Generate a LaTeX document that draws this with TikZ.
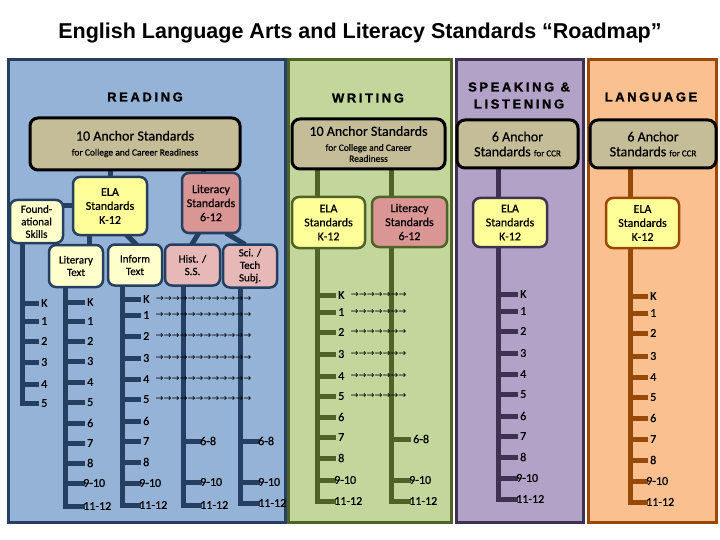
\documentclass[tikz,border=0pt]{standalone}
\usepackage{fontspec}
\setmainfont[FakeBold=0.6]{Carlito}
\newfontfamily\titlefont{Liberation Sans}
\newfontfamily\headfont[LetterSpace=20, FakeBold=1.2]{Liberation Sans Bold}
\newfontfamily\arrowfont{DejaVu Sans}

\definecolor{readfill}{HTML}{95B3D7}
\definecolor{readline}{HTML}{243F60}
\definecolor{writefill}{HTML}{C3D69B}
\definecolor{writeline}{HTML}{4F6228}
\definecolor{speakfill}{HTML}{B3A2C7}
\definecolor{speakline}{HTML}{3F3151}
\definecolor{langfill}{HTML}{FAC090}
\definecolor{langline}{HTML}{984807}
\definecolor{anchorfill}{HTML}{C4BD97}
\definecolor{elafill}{HTML}{FFFF99}
\definecolor{palefill}{HTML}{FFFFCC}
\definecolor{litfill}{HTML}{D99694}
\definecolor{subjfill}{HTML}{E6B9B8}

\pgfdeclarelayer{panels}
\pgfdeclarelayer{wires}
\pgfsetlayers{panels,wires,main}

\begin{document}
\begin{tikzpicture}[x=1pt, y=-1pt,
    box/.style={rounded corners=7pt, line width=2.5pt, align=center, inner sep=1pt,
      font=\fontsize{12}{14}\selectfont},
    smallbox/.style={box, font=\fontsize{11}{12.5}\selectfont},
    anchorbox/.style={box, draw=black, line width=3pt, rounded corners=8pt,
      fill=anchorfill, font=\fontsize{14}{15}\selectfont},
    panel/.style={line width=3pt},
    head/.style={align=center, font=\headfont\fontsize{13}{17}\selectfont},
    grade/.style={anchor=west, inner xsep=5pt, inner ysep=1pt, font=\fontsize{12}{14}\selectfont},
    band/.style={grade, inner xsep=1pt},
    arrowrow/.style={anchor=west, inner sep=1pt, font=\arrowfont\fontsize{9.5}{10}\selectfont},
    wire/.style={line width=5pt, line cap=rect},
]
\useasboundingbox (0,0) rectangle (720,540);

% panels
\begin{pgfonlayer}{panels}
    \fill[white] (0,0) rectangle (720,540);
    \draw[panel, draw=readline, fill=readfill] (8,60) rectangle (285,522);
    \draw[panel, draw=writeline, fill=writefill] (288,60) rectangle (451,522);
    \draw[panel, draw=speakline, fill=speakfill] (456,60) rectangle (583,522);
    \draw[panel, draw=langline, fill=langfill] (588,60) rectangle (716,522);
\end{pgfonlayer}

\node (title) at (360,33) {\titlefont\bfseries\fontsize{21.5}{24}\selectfont English Language Arts and Literacy Standards “Roadmap”};

% reading
\node[head] (rhead) at (145,97) {READING};
\node[anchorbox, minimum width=210, minimum height=52] (ranchor) at (135,144)
    {10 Anchor Standards\\{\fontsize{9.5}{11}\selectfont for College and Career Readiness}};
\node[box, draw=readline, fill=elafill, minimum width=74, minimum height=58] (rela) at (110,206)
    {ELA\\Standards\\K-12};
\node[box, draw=readline, fill=litfill, minimum width=58, minimum height=60] (rlit) at (211,203)
    {Literacy\\Standards\\6-12};
\node[smallbox, draw=readline, fill=palefill, minimum width=53, minimum height=43] (rfound) at (36.5,221.5)
    {Found-\\ational\\Skills};
\node[smallbox, draw=readline, fill=palefill, minimum width=54, minimum height=42] (rliterary) at (76,266)
    {Literary\\Text};
\node[smallbox, draw=readline, fill=palefill, minimum width=54, minimum height=41] (rinform) at (135,265)
    {Inform\\Text};
\node[smallbox, draw=readline, fill=subjfill, minimum width=55, minimum height=41] (rhist) at (192.5,265)
    {Hist. /\\S.S.};
\node[smallbox, draw=readline, fill=subjfill, minimum width=54, minimum height=43] (rsci) at (250,266)
    {Sci. /\\Tech\\Subj.};

\coordinate (rfend) at (22,403);
\coordinate (rlend) at (65,506);
\coordinate (riend) at (122,505);
\coordinate (rhend) at (183,505);
\coordinate (rsend) at (240,503);
\foreach \g/\y [count=\i] in {K/303,1/321,2/341,3/362,4/384,5/403}
    \node[grade] (rf\i) at (36,\y) {\g};
\foreach \g/\y [count=\i] in {K/302,1/321,2/341,3/361,4/382,5/402,6/423,7/443,8/463}
    \node[grade] (rl\i) at (82,\y) {\g};
\foreach \g/\y [count=\i from 10] in {9-10/483,11-12/506}
    \node[band] (rl\i) at (82,\y) {\g};
\foreach \g/\y [count=\i] in {K/299,1/315,2/336,3/358,4/379,5/399,6/421,7/441,8/462}
    \node[grade] (ri\i) at (138,\y) {\g};
\foreach \g/\y [count=\i from 10] in {9-10/483,11-12/505}
    \node[band] (ri\i) at (138,\y) {\g};
\foreach \g/\y [count=\i] in {6-8/441,9-10/482,11-12/505}
    \node[band] (rh\i) at (199,\y) {\g};
\foreach \g/\y [count=\i] in {6-8/441,9-10/482,11-12/503}
    \node[band] (rs\i) at (257,\y) {\g};

% writing
\node[head] (whead) at (368,98) {WRITING};
\node[anchorbox, minimum width=153, minimum height=50] (wanchor) at (368.5,144)
    {10 Anchor Standards\\{\fontsize{9.5}{11}\selectfont for College and Career}\\[-4pt]{\fontsize{9.5}{11}\selectfont Readiness}};
\node[box, draw=writeline, fill=elafill, minimum width=73, minimum height=51] (wela) at (328.5,222.5)
    {ELA\\Standards\\K-12};
\node[box, draw=writeline, fill=litfill, minimum width=75, minimum height=50] (wlit) at (409.5,222)
    {Literacy\\Standards\\6-12};

\coordinate (weend) at (317,501);
\coordinate (wlend) at (391,501);
\foreach \g/\y [count=\i] in {K/295,1/312,2/332,3/354,4/376,5/396,6/417,7/437,8/458}
    \node[grade] (we\i) at (333,\y) {\g};
\foreach \g/\y [count=\i from 10] in {9-10/480,11-12/501}
    \node[band] (we\i) at (333,\y) {\g};
\node[grade] (wl1) at (408,439) {6-8};
\foreach \g/\y [count=\i from 2] in {9-10/480,11-12/501}
    \node[band] (wl\i) at (408,\y) {\g};

% speaking and listening
\node[head] (shead) at (519,95.5) {SPEAKING \&\\LISTENING};
\node[anchorbox, minimum width=121, minimum height=48] (sanchor) at (517.5,144)
    {6 Anchor\\Standards {\fontsize{9}{10}\selectfont for CCR}};
\node[box, draw=speakline, fill=elafill, minimum width=74, minimum height=49] (sela) at (510,222.5)
    {ELA\\Standards\\K-12};

\coordinate (seend) at (498,499);
\foreach \g/\y [count=\i] in {K/294,1/311,2/331,3/353,4/374,5/394,6/416,7/436,8/457}
    \node[grade] (se\i) at (515,\y) {\g};
\foreach \g/\y [count=\i from 10] in {9-10/478,11-12/499}
    \node[band] (se\i) at (515,\y) {\g};

% language
\node[head] (lhead) at (651,97) {LANGUAGE};
\node[anchorbox, minimum width=126, minimum height=48] (lanchor) at (653,144)
    {6 Anchor\\Standards {\fontsize{9}{10}\selectfont for CCR}};
\node[box, draw=langline, fill=elafill, minimum width=73, minimum height=50] (lela) at (642.5,223)
    {ELA\\Standards\\K-12};

\coordinate (leend) at (630,502);
\foreach \g/\y [count=\i] in {K/296,1/313,2/333,3/356,4/377,5/397,6/418,7/439,8/460}
    \node[grade] (le\i) at (645,\y) {\g};
\foreach \g/\y [count=\i from 10] in {9-10/481,11-12/502}
    \node[band] (le\i) at (645,\y) {\g};

% connectors
\begin{pgfonlayer}{wires}
    \path (rlit.north) ++(-8,0) coordinate (rlittop);
    \begin{scope}[wire, draw=readline]
        \draw (ranchor.south -| rela.north) -- (rela.north);
        \draw (rlittop |- ranchor.south) -- (rlittop);
        \draw (rela.west) -- (rela.west -| rfound.east);
        \draw ([xshift=-21pt]rela.south) -- ([xshift=13pt]rliterary.north);
        \draw ([xshift=18pt]rela.south) -- (rinform.north);
        \draw ([xshift=-13pt]rlit.south) -- (rhist.north);
        \draw ([xshift=17pt]rlit.south) -- ([xshift=-7pt]rsci.north);
        \draw (rfend |- rfound.south) -- (rfend);
        \draw (rlend |- rliterary.south) -- (rlend);
        \draw (riend |- rinform.south) -- (riend);
        \draw (rhend |- rhist.south) -- (rhend);
        \draw (rsend |- rsci.south) -- (rsend);
        \foreach \i in {1,...,6} \draw (rf\i.west -| rfend) -- (rf\i.west);
        \foreach \i in {1,...,11} \draw (rl\i.west -| rlend) -- (rl\i.west);
        \foreach \i in {1,...,11} \draw (ri\i.west -| riend) -- (ri\i.west);
        \foreach \i in {1,...,3} \draw (rh\i.west -| rhend) -- (rh\i.west);
        \foreach \i in {1,...,3} \draw (rs\i.west -| rsend) -- (rs\i.west);
    \end{scope}
    \begin{scope}[wire, draw=writeline]
        \draw (weend |- wanchor.south) -- (weend |- wela.north);
        \draw (wlend |- wanchor.south) -- (wlend |- wlit.north);
        \draw (weend |- wela.south) -- (weend);
        \draw (wlend |- wlit.south) -- (wlend);
        \foreach \i in {1,...,11} \draw (we\i.west -| weend) -- (we\i.west);
        \foreach \i in {1,...,3} \draw (wl\i.west -| wlend) -- (wl\i.west);
    \end{scope}
    \begin{scope}[wire, draw=speakline]
        \draw (seend |- sanchor.south) -- (seend |- sela.north);
        \draw (seend |- sela.south) -- (seend);
        \foreach \i in {1,...,11} \draw (se\i.west -| seend) -- (se\i.west);
    \end{scope}
    \begin{scope}[wire, draw=langline]
        \draw (leend |- lanchor.south) -- (leend |- lela.north);
        \draw (leend |- lela.south) -- (leend);
        \foreach \i in {1,...,11} \draw (le\i.west -| leend) -- (le\i.west);
    \end{scope}
\end{pgfonlayer}

% grade arrows
\foreach \i in {1,...,6}
    \node[arrowrow] (ra\i) at (ri\i.east) {→→→→→→→→→→→→};
\foreach \i in {1,...,6}
    \node[arrowrow] (wa\i) at (we\i.east) {→→→→→→→};
\end{tikzpicture}
\end{document}
